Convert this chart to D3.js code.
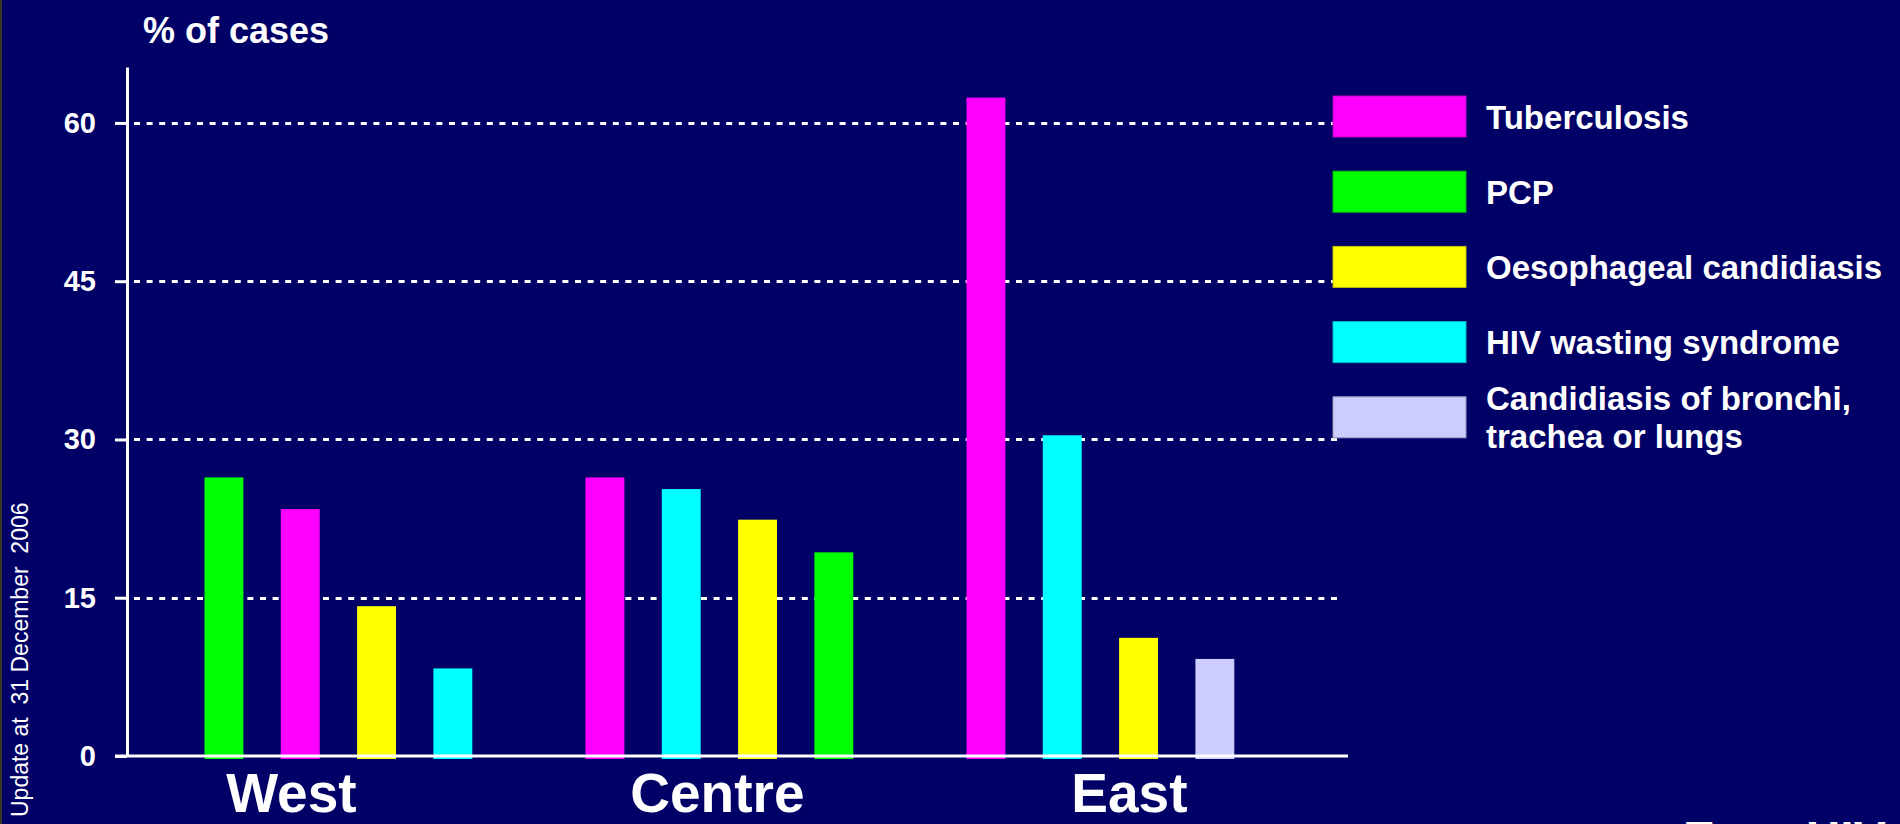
<!DOCTYPE html>
<html>
<head>
<meta charset="utf-8">
<script src="https://cdn.jsdelivr.net/npm/d3@7"></script>
<style>
  html, body { margin: 0; padding: 0; background: #000066; overflow: hidden; }
  svg { display: block; font-family: "Liberation Sans", Arial, Helvetica, sans-serif; }
</style>
</head>
<body>
<svg id="chart" width="1900" height="824"></svg>
<script>
// ---------- data ----------
const regions = ["West", "Centre", "East"];
const diseases = ["Tuberculosis", "PCP", "Oesophageal candidiasis", "HIV wasting syndrome", "Candidiasis of bronchi, trachea or lungs"];
const diseaseColors = ["#FF00FF", "#00FF00", "#FFFF00", "#00FFFF", "#CCCCFF"];
const legendLines = [["Tuberculosis"], ["PCP"], ["Oesophageal candidiasis"], ["HIV wasting syndrome"], ["Candidiasis of bronchi,", "trachea or lungs"]];

const westDiseases = ["PCP", "Tuberculosis", "Oesophageal candidiasis", "HIV wasting syndrome"];
const westValues = [26.4, 23.4, 14.2, 8.3];
const centreDiseases = ["Tuberculosis", "HIV wasting syndrome", "Oesophageal candidiasis", "PCP"];
const centreValues = [26.4, 25.3, 22.4, 19.3];
const eastDiseases = ["Tuberculosis", "HIV wasting syndrome", "Oesophageal candidiasis", "Candidiasis of bronchi, trachea or lungs"];
const eastValues = [62.4, 30.4, 11.2, 9.2];

const yTicks = [0, 15, 30, 45, 60];
const yTitle = "% of cases";
const sideNote = "Update at  31 December  2006";
const footer = "Euro HIV";

// ---------- layout ----------
const groupDiseases = [westDiseases, centreDiseases, eastDiseases];
const groupValues = [westValues, centreValues, eastValues];
const rows = [];
regions.forEach((r, gi) => {
  groupDiseases[gi].forEach((d, i) => rows.push({ region: r, slot: i, disease: d, value: groupValues[gi][i] }));
});

const svg = d3.select("#chart");
const W = 1900, H = 824;
svg.append("rect").attr("width", W).attr("height", H).attr("fill", "#000066");
svg.append("rect").attr("width", 2).attr("height", H).attr("fill", "#3a3828");

const axisX = 127;
const y = d3.scaleLinear().domain([0, 65.3]).range([756, 67]);

const groupStep = 381;
const x0 = d3.scaleBand().domain(regions).range([185.8, 185.8 + groupStep * regions.length]).paddingInner(0).paddingOuter(0);
const x1 = d3.scaleBand().domain([0, 1, 2, 3]).range([0, 305.2]).paddingInner(0.49).paddingOuter(0.245);
const color = d3.scaleOrdinal().domain(diseases).range(diseaseColors);

// gridlines
svg.append("g").selectAll("line")
  .data(yTicks.filter(t => t > 0))
  .join("line")
  .attr("x1", 134).attr("x2", 1341)
  .attr("y1", d => Math.round(y(d)) + 0.5).attr("y2", d => Math.round(y(d)) + 0.5)
  .attr("stroke", "#ffffff").attr("stroke-width", 3.2)
  .attr("stroke-dasharray", "6 6.6");

// bars
svg.append("g").selectAll("rect")
  .data(rows)
  .join("rect")
  .attr("x", d => x0(d.region) + x1(d.slot))
  .attr("width", x1.bandwidth())
  .attr("y", d => y(d.value))
  .attr("height", d => y(0) - y(d.value) + 3)
  .attr("fill", d => color(d.disease));

// y axis
const yAxis = d3.axisLeft(y).tickValues(yTicks).tickSize(12).tickSizeOuter(0).tickPadding(19);
const gy = svg.append("g").attr("transform", `translate(${axisX},0)`).call(yAxis);
gy.select(".domain").attr("stroke", "#ffffff").attr("stroke-width", 3);
gy.selectAll(".tick line").attr("stroke", "#ffffff").attr("stroke-width", 3);
gy.selectAll(".tick text").attr("fill", "#ffffff").attr("font-size", 29).attr("font-weight", "bold")
  .attr("font-family", "'Liberation Sans', Arial, sans-serif");

// zero baseline
svg.append("line")
  .attr("x1", 115).attr("x2", 1348)
  .attr("y1", y(0)).attr("y2", y(0))
  .attr("stroke", "#ffffff").attr("stroke-width", 3);

// category labels
const labelDx = [-47, -2, 29];
svg.append("g").selectAll("text")
  .data(regions)
  .join("text")
  .attr("x", (d, i) => x0(d) + 152.6 + labelDx[i])
  .attr("y", 812)
  .attr("text-anchor", "middle")
  .attr("fill", "#ffffff").attr("font-size", 55).attr("font-weight", "bold")
  .text(d => d);

// y title
svg.append("text").attr("x", 143).attr("y", 43)
  .attr("fill", "#ffffff").attr("font-size", 36).attr("font-weight", "bold")
  .text(yTitle);

// side note
svg.append("text")
  .attr("transform", "translate(28,817) rotate(-90)")
  .attr("fill", "#ffffff").attr("font-size", 23)
  .style("white-space", "pre")
  .text(sideNote);

// footer (cut off at bottom, as in the reference)
svg.append("text").attr("x", 1683).attr("y", 855)
  .attr("fill", "#ffffff").attr("font-size", 48).attr("font-weight", "bold")
  .text(footer);

// legend
const lg = svg.append("g").selectAll("g")
  .data(diseases)
  .join("g")
  .attr("transform", (d, i) => `translate(1333,${96 + i * 75.2})`);
lg.append("rect")
  .attr("width", 133).attr("height", 41)
  .attr("fill", d => color(d))
  .attr("stroke", d => d3.color(color(d)).darker(0.8))
  .attr("stroke-width", 1);
lg.append("text")
  .attr("x", 153)
  .attr("fill", "#ffffff").attr("font-size", 33).attr("font-weight", "bold")
  .each(function(d, i) {
    const lines = legendLines[i];
    const base = 20.5 + 12 - (lines.length - 1) * 19.5;
    d3.select(this).selectAll("tspan").data(lines).join("tspan")
      .attr("x", 153).attr("y", (l, j) => base + j * 38.5).text(l => l);
  });
</script>
</body>
</html>
